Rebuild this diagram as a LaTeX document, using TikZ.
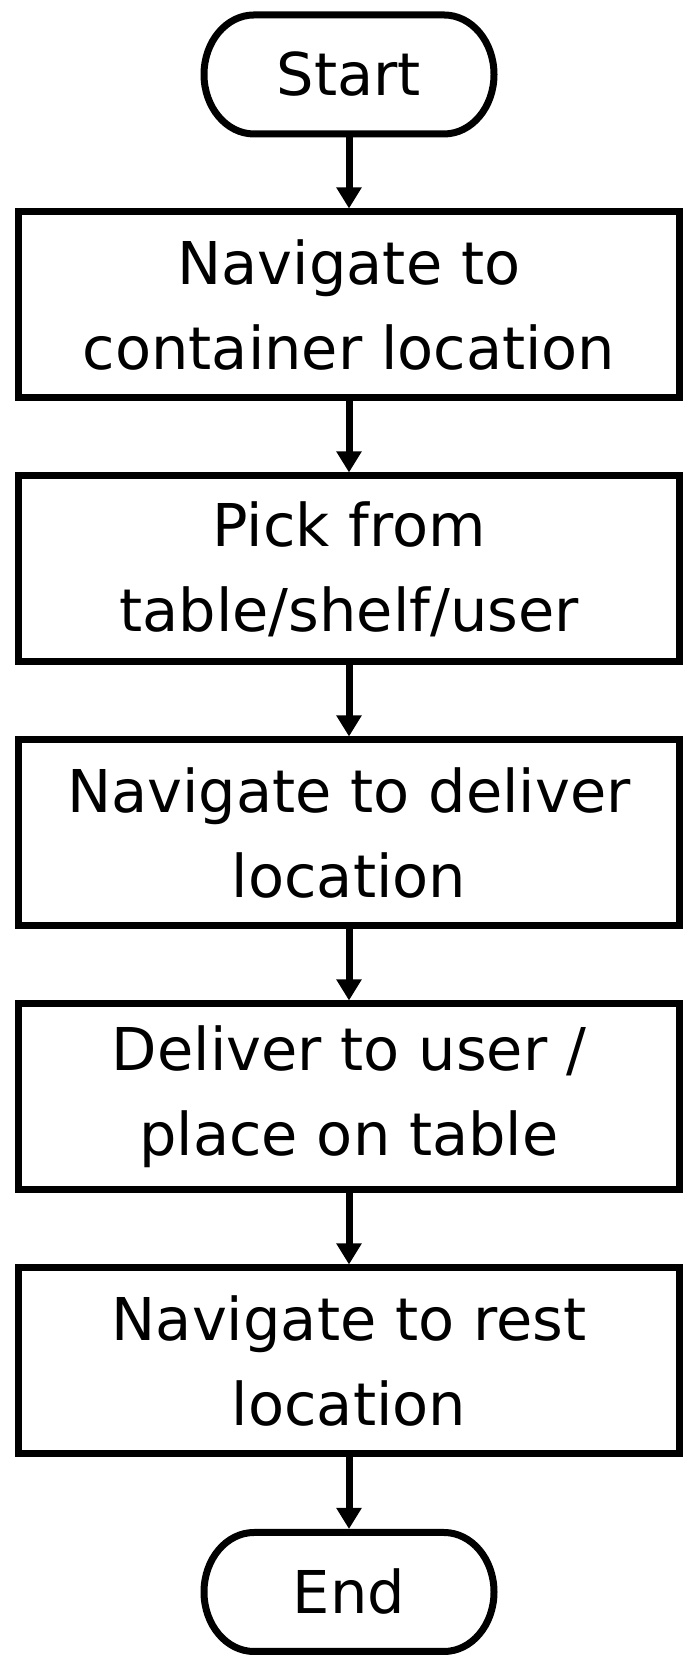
\documentclass[tikz,border=0pt]{standalone}
\usepackage{fontspec}
\setmainfont{DejaVu Sans}
\usetikzlibrary{arrows.meta}

\tikzset{
stepbox/.style={draw,line width=3.5pt,minimum width=330.5pt,minimum height=93pt,inner sep=0pt,align=center,font=\fontsize{29.5}{42.5}\selectfont},
term/.style={line width=3.5pt,minimum width=145pt,minimum height=59.5pt,inner sep=0pt,font=\fontsize{29.5}{42.5}\selectfont},
flow/.style={line width=3.5pt,-{Triangle[width=12pt,length=10.5pt]}}
}

\begin{document}
\begin{tikzpicture}
\useasboundingbox (0,0) rectangle (347.5pt,837pt);
\node[term] (start) at (174.5pt,799.75pt) {Start};
\node[term] (stop) at (174.5pt,41pt) {End};
\foreach \n in {start,stop}
\draw[line width=3.5pt] ([xshift=-47.5pt,yshift=-1.75pt]\n.north) -- ([xshift=47.5pt,yshift=-1.75pt]\n.north)
  arc[start angle=90,end angle=-90,x radius=25pt,y radius=29.75pt]
  -- ([xshift=-47.5pt,yshift=1.75pt]\n.south)
  arc[start angle=270,end angle=90,x radius=25pt,y radius=29.75pt] -- cycle;
\node[stepbox] (navbox) at (174.5pt,684.5pt) {Navigate to\\container location};
\node[stepbox] (pick) at (174.5pt,552.5pt) {Pick from\\table/shelf/user};
\node[stepbox] (navdeliver) at (174.5pt,420.5pt) {Navigate to deliver\\location};
\node[stepbox] (deliver) at (174.5pt,288.5pt) {Deliver to user /\\place on table};
\node[stepbox] (navrest) at (174.5pt,156.5pt) {Navigate to rest\\location};
\foreach \a/\b in {start/navbox,navbox/pick,pick/navdeliver,navdeliver/deliver,deliver/navrest,navrest/stop}
\draw[flow] (\a) -- (\b);
\end{tikzpicture}
\end{document}
